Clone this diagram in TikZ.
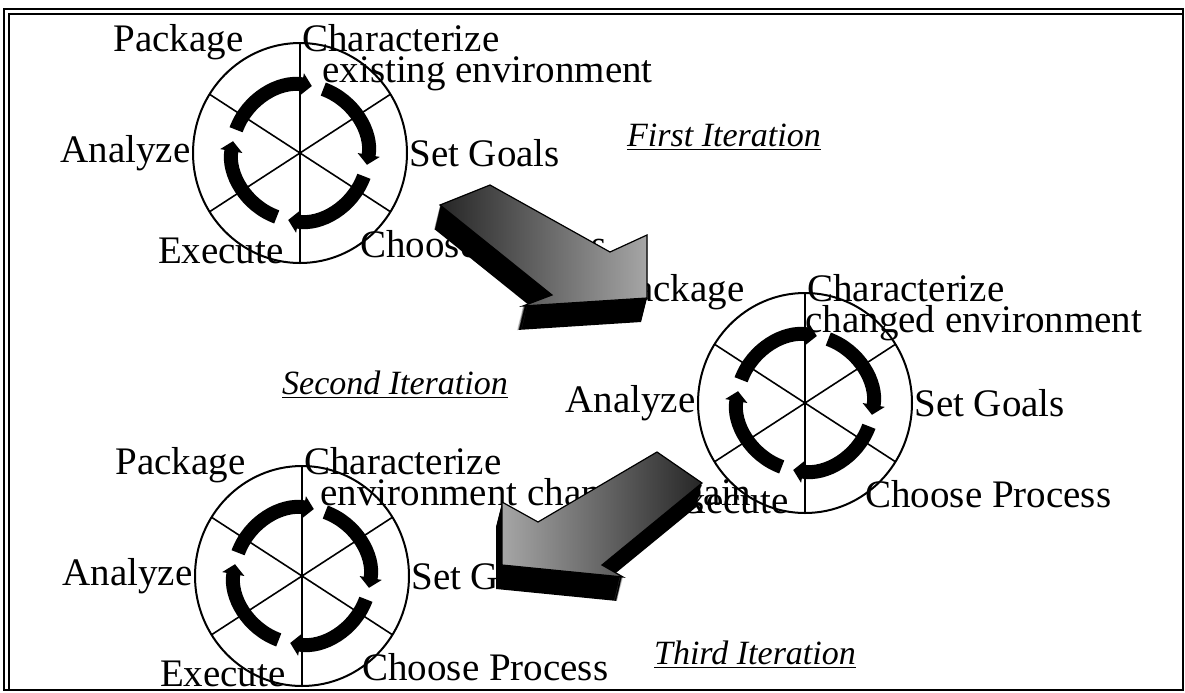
\documentclass[tikz,border=0pt]{standalone}
\usepackage{fontspec}
\setmainfont{Liberation Serif}
\usetikzlibrary{shapes.geometric, arrows.meta, positioning}
\tikzset{
  phase/.style={ellipse, draw, line width=1pt, minimum width=107pt, minimum height=110pt, inner sep=0pt, outer sep=0pt},
  spoke/.style={line width=0.8pt},
  cyc/.style={line width=7pt, -{Triangle[length=5pt, width=11pt]}},
  lbl/.style={font=\fontsize{19.5}{21}\selectfont, inner sep=0pt},
  iter/.style={font=\fontsize{17}{19}\selectfont\itshape, inner sep=0pt},
  blockface/.style={draw=black, line width=0.6pt},
}
\newcommand\arrowfirst{(490,185) -- (610,252) -- (647,235) -- (647,298) -- (523,306) -- (552,295) -- (440,205) -- cycle}
\newcommand\arrowsecond{(657,452) -- (702,483) -- (602,565) -- (623,577) -- (502,565) -- (502,502) -- (538,522) -- cycle}
\begin{document}
\begin{tikzpicture}[x=0.5pt, y=-0.5pt]
  \useasboundingbox (0,0) rectangle (1185,692);
  % frame
  \draw[line width=1.2pt] (4,9) rectangle (1183,690);
  \draw[line width=0.8pt] (9,690) -- (9,14) -- (1183,14);

  \node[phase] (c1) at (300,153) {};
  \node[phase] (c2) at (805,403) {};
  \node[phase] (c3) at (302,576) {};

  % spokes
  \draw[spoke] (c1.north) -- (c1.south);
  \draw[spoke] (c1.33) -- (c1.213);
  \draw[spoke] (c1.147) -- (c1.327);
  \draw[spoke] (c2.north) -- (c2.south);
  \draw[spoke] (c2.33) -- (c2.213);
  \draw[spoke] (c2.147) -- (c2.327);
  \draw[spoke] (c3.north) -- (c3.south);
  \draw[spoke] (c3.33) -- (c3.213);
  \draw[spoke] (c3.147) -- (c3.327);

  % cycle arrows
  \draw[cyc] (c1.center) ++(160:34pt) arc[start angle=160, end angle=80, radius=34pt];
  \draw[cyc] (c1.center) ++(70:34pt) arc[start angle=70, end angle=-10, radius=34pt];
  \draw[cyc] (c1.center) ++(-20:34pt) arc[start angle=-20, end angle=-100, radius=34pt];
  \draw[cyc] (c1.center) ++(-110:34pt) arc[start angle=-110, end angle=-190, radius=34pt];
  \draw[cyc] (c2.center) ++(160:34pt) arc[start angle=160, end angle=80, radius=34pt];
  \draw[cyc] (c2.center) ++(70:34pt) arc[start angle=70, end angle=-10, radius=34pt];
  \draw[cyc] (c2.center) ++(-20:34pt) arc[start angle=-20, end angle=-100, radius=34pt];
  \draw[cyc] (c2.center) ++(-110:34pt) arc[start angle=-110, end angle=-190, radius=34pt];
  \draw[cyc] (c3.center) ++(160:34pt) arc[start angle=160, end angle=80, radius=34pt];
  \draw[cyc] (c3.center) ++(70:34pt) arc[start angle=70, end angle=-10, radius=34pt];
  \draw[cyc] (c3.center) ++(-20:34pt) arc[start angle=-20, end angle=-100, radius=34pt];
  \draw[cyc] (c3.center) ++(-110:34pt) arc[start angle=-110, end angle=-190, radius=34pt];

  % first iteration
  \node[lbl, anchor=base east] (pk1) at ([shift={(-28pt,-4pt)}]c1.north) {Package};
  \node[lbl, anchor=base west] (ch1) at ([shift={(1pt,-4pt)}]c1.north) {Characterize};
  \node[lbl, anchor=base west] (en1) at ([shift={(10pt,-15.5pt)}]ch1.base west) {existing environment};
  \node[lbl, anchor=east] (an1) at ([xshift=-1pt]c1.west) {Analyze};
  \node[lbl, anchor=west] (sg1) at ([xshift=1pt]c1.east) {Set Goals};
  \node[lbl, anchor=base east] (ex1) at ([xshift=-8pt]c1.south) {Execute};
  \node[lbl, anchor=base west] (cp1) at ([shift={(30pt,3pt)}]c1.south) {Choose Process};

  % second iteration
  \node[lbl, anchor=base east] (pk2) at ([shift={(-30pt,-4pt)}]c2.north) {Package};
  \node[lbl, anchor=base west] (ch2) at ([shift={(1pt,-4pt)}]c2.north) {Characterize};
  \node[lbl, anchor=base west] (en2) at ([shift={(-1pt,-15.5pt)}]ch2.base west) {changed environment};
  \node[lbl, anchor=east] (an2) at ([xshift=-1pt]c2.west) {Analyze};
  \node[lbl, anchor=west] (sg2) at ([xshift=1pt]c2.east) {Set Goals};
  \node[lbl, anchor=base east] (ex2) at ([xshift=-8pt]c2.south) {Execute};
  \node[lbl, anchor=base west] (cp2) at ([shift={(30pt,3pt)}]c2.south) {Choose Process};

  % third iteration
  \node[lbl, anchor=base east] (pk3) at ([shift={(-28pt,-4pt)}]c3.north) {Package};
  \node[lbl, anchor=base west] (ch3) at ([shift={(1pt,-4pt)}]c3.north) {Characterize};
  \node[lbl, anchor=base west] (en3) at ([shift={(8pt,-15.5pt)}]ch3.base west) {environment changed again};
  \node[lbl, anchor=east] (an3) at ([xshift=-1pt]c3.west) {Analyze};
  \node[lbl, anchor=west] (sg3) at ([xshift=1pt]c3.east) {Set Goals};
  \node[lbl, anchor=base east] (ex3) at ([xshift=-8pt]c3.south) {Execute};
  \node[lbl, anchor=base west] (cp3) at ([shift={(30pt,3pt)}]c3.south) {Choose Process};

  \node[iter] (it1) at (724,137) {\underline{First Iteration}};
  \node[iter] (it2) at (395,385) {\underline{Second Iteration}};
  \node[iter] (it3) at (755,655) {\underline{Third Iteration}};

  % block arrows
  \foreach \d in {0,...,24}
    \fill[black, xshift=-0.12pt*\d, yshift=-0.5pt*\d] \arrowfirst;
  \shade[blockface, left color=black!85, right color=black!35] \arrowfirst;
  \foreach \d in {0,...,24}
    \fill[black, xshift=-0.12pt*\d, yshift=-0.5pt*\d] \arrowsecond;
  \shade[blockface, left color=black!35, right color=black!85] \arrowsecond;
\end{tikzpicture}
\end{document}
